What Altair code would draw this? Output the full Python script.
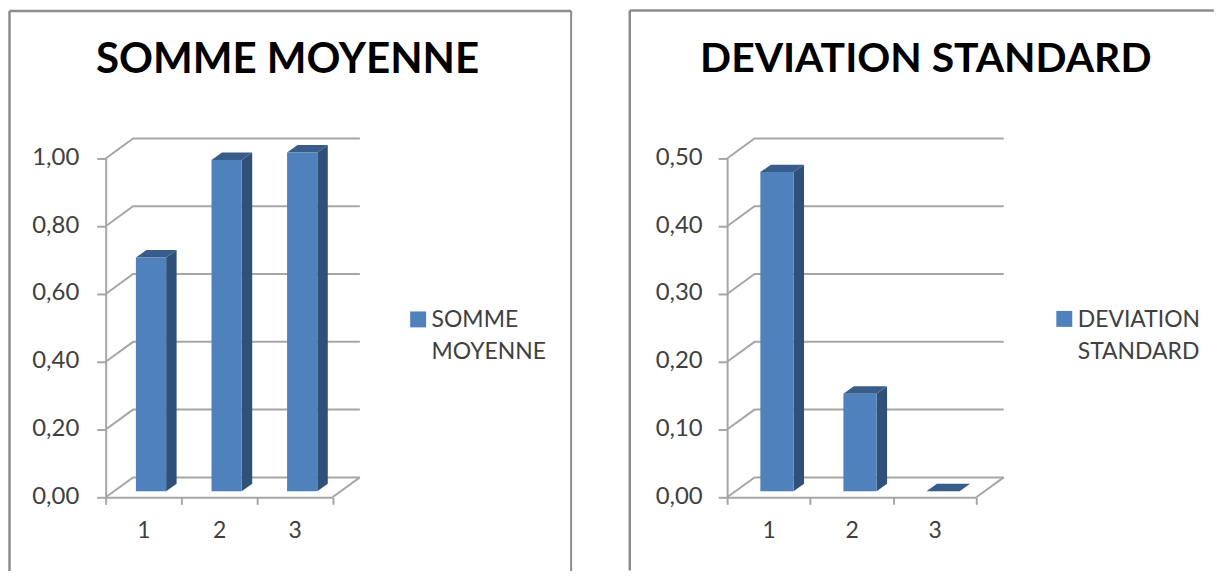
import altair as alt
import pandas as pd

categories = [1, 2, 3]
somme_values = [0.69, 0.978, 1.0]
deviation_values = [0.471, 0.144, 0.0]
somme_ticks = [0.0, 0.2, 0.4, 0.6, 0.8, 1.0]
deviation_ticks = [0.0, 0.1, 0.2, 0.3, 0.4, 0.5]
titles = ["SOMME MOYENNE", "DEVIATION STANDARD"]

FONT = "Lato"
TEXT = "#404040"
GRID = "#a6a6a6"
FRAME = "#8c8c8c"
FRONT = "#4f81bd"
SIDE = "#2f5079"
TOP = "#385d8a"
# legend swatch: a square moved down so that it sits beside the first line of the label
SWATCH = "M-1,0.25 h2 v2 h-2 z"


def panel(title, values, ticks, width, ox, oy, x_right, x_left, title_cx, title_size, legend_x,
          label_pad, has_right):
    height = 340
    ymax = ticks[-1]
    unit = width / 3
    wall_dx, wall_dy = 27.5 / unit, 20 / 340 * ymax
    bar_dx, bar_dy = 10.5 / unit, 7.5 / 340 * ymax
    lift = 6 / 340 * ymax
    half = 0.2
    shift = 0.1
    xs = alt.Scale(domain=[0.5, 3.5], nice=False, zero=False)
    ys = alt.Scale(domain=[0, ymax], nice=False, zero=False)

    grid_rows = []
    for t in ticks:
        grid_rows += [
            {"k": t, "x": 0.5, "y": t},
            {"k": t, "x": 0.5 + wall_dx, "y": t + wall_dy},
            {"k": t, "x": 3.5 + wall_dx, "y": t + wall_dy},
        ]
    grid_rows += [{"k": -1, "x": 3.5, "y": 0}, {"k": -1, "x": 3.5 + wall_dx, "y": wall_dy}]

    front, side, top = [], [], []
    for c, v in zip(categories, values):
        l, r = c + shift - half, c + shift + half
        yt = lift + v
        front.append({"x": l, "x2": r, "y": lift, "y2": yt, "s": title})
        side += [
            {"c": c, "x": r, "y": lift, "y2": yt},
            {"c": c, "x": r + bar_dx, "y": lift + bar_dy, "y2": yt + bar_dy},
        ]
        top += [
            {"c": c, "x": l, "y": yt, "y2": yt},
            {"c": c, "x": l + bar_dx, "y": yt + bar_dy, "y2": yt},
            {"c": c, "x": r, "y": yt + bar_dy, "y2": yt},
            {"c": c, "x": r + bar_dx, "y": yt + bar_dy, "y2": yt + bar_dy},
        ]

    y_axis = alt.Axis(
        values=ticks, title=None, grid=False, orient="left", tickSize=9, tickWidth=2, tickColor=GRID,
        domainColor=GRID, domainWidth=2, labelFont=FONT, labelFontSize=24, labelColor=TEXT,
        labelPadding=label_pad, labelOffset=-1, labelExpr="replace(format(datum.value,'.2f'),'.',',')",
    )
    tick_axis = alt.Axis(
        values=[0.5, 1.5, 2.5, 3.5], title=None, grid=False, orient="bottom", labels=False, tickSize=7,
        tickWidth=2, tickColor=GRID, domainColor=GRID, domainWidth=2,
    )
    label_axis = alt.Axis(
        values=categories, title=None, grid=False, orient="bottom", ticks=False, domain=False,
        labelFont=FONT, labelFontSize=23, labelColor=TEXT, labelPadding=22,
        labelExpr="format(datum.value,'d')",
    )

    grid = alt.Chart(pd.DataFrame(grid_rows)).mark_line(color=GRID, strokeWidth=2, clip=False).encode(
        x=alt.X("x:Q", scale=xs, axis=None),
        y=alt.Y("y:Q", scale=ys, axis=None),
        detail="k:N",
    )
    side_l = alt.Chart(pd.DataFrame(side)).mark_area(color=SIDE, interpolate="linear").encode(
        x=alt.X("x:Q", scale=xs, axis=tick_axis),
        y=alt.Y("y:Q", scale=ys, axis=None, stack=None),
        y2="y2:Q",
        detail="c:N",
    )
    top_l = alt.Chart(pd.DataFrame(top)).mark_area(color=TOP, interpolate="linear").encode(
        x=alt.X("x:Q", scale=xs, axis=None),
        y=alt.Y("y:Q", scale=ys, axis=None, stack=None),
        y2="y2:Q",
        detail="c:N",
    )
    front_l = alt.Chart(pd.DataFrame(front)).mark_rect().encode(
        x=alt.X("x:Q", scale=xs, axis=label_axis),
        x2="x2:Q",
        y=alt.Y("y:Q", scale=ys, axis=y_axis),
        y2="y2:Q",
        color=alt.Color(
            "s:N",
            scale=alt.Scale(domain=[title], range=[FRONT]),
            legend=alt.Legend(
                title=None, orient="none", legendX=legend_x - ox, legendY=297 - oy,
                symbolType=SWATCH, symbolSize=256, symbolStrokeWidth=0, labelFont=FONT,
                labelFontSize=23, labelColor=TEXT, labelExpr="split(datum.label,' ')",
                labelOffset=2, labelBaseline="top", labelLimit=400,
            ),
        ),
    )

    # chart frame and title, in pixels relative to the plot area
    l, t, b = x_left - ox, 9 - oy, 571 - oy
    r = x_right - ox
    extras = [
        alt.Chart().mark_rule(color=FRAME, strokeWidth=2.5).encode(
            x=alt.value(l), x2=alt.value(r), y=alt.value(t)),
        alt.Chart().mark_rule(color=FRAME, strokeWidth=2.5).encode(
            x=alt.value(l), y=alt.value(t), y2=alt.value(b)),
        alt.Chart().mark_text(
            text=title, font=FONT, fontSize=title_size, fontWeight="bold", color="#000000",
            align="center", baseline="alphabetic",
        ).encode(x=alt.value(title_cx - ox), y=alt.value(71 - oy)),
    ]
    if has_right:
        extras.append(alt.Chart().mark_rule(color=FRAME, strokeWidth=2).encode(
            x=alt.value(r), y=alt.value(t), y2=alt.value(b)))

    return alt.layer(grid, side_l, top_l, front_l, *extras).resolve_axis(
        x="independent", y="independent"
    ).properties(
        width=width, height=height,
    )


left = panel(titles[0], somme_values, somme_ticks, 227.5, 105.5, 157, 572.5, 9, 288, 42.2, 407.5, 18, True)
right = panel(titles[1], deviation_values, deviation_ticks, 250, 726.7, 157.5, 1215, 629, 926, 41, 1053.5, 16, False)

chart = alt.hconcat(left, right, spacing=55.5, padding=0).resolve_scale(color="independent").configure(
    view=alt.ViewConfig(stroke=None),
    style={"guide-label": {"lineHeight": 32}},
)

chart.save("out.html", embed_options={"renderer": "svg", "actions": False})
